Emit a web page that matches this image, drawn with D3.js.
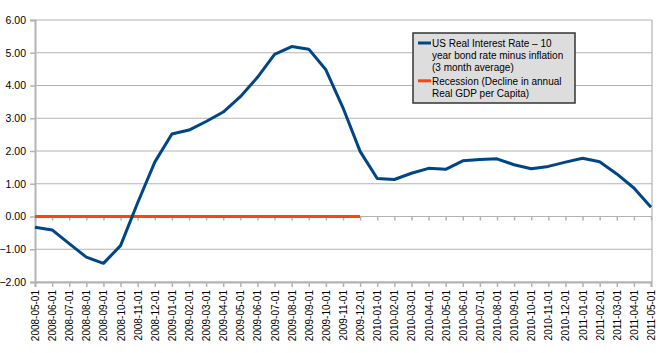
<!DOCTYPE html>
<html>
<head>
<meta charset="utf-8">
<script src="https://cdn.jsdelivr.net/npm/d3@7"></script>
<style>
  body { margin: 0; background: #fff; }
  text { font-family: "Liberation Sans", Arial, sans-serif; fill: #000; }
</style>
</head>
<body>
<div id="chart"></div>
<script>
const months = [
    "2008-05-01", "2008-06-01", "2008-07-01", "2008-08-01", "2008-09-01", "2008-10-01",
    "2008-11-01", "2008-12-01", "2009-01-01", "2009-02-01", "2009-03-01", "2009-04-01",
    "2009-05-01", "2009-06-01", "2009-07-01", "2009-08-01", "2009-09-01", "2009-10-01",
    "2009-11-01", "2009-12-01", "2010-01-01", "2010-02-01", "2010-03-01", "2010-04-01",
    "2010-05-01", "2010-06-01", "2010-07-01", "2010-08-01", "2010-09-01", "2010-10-01",
    "2010-11-01", "2010-12-01", "2011-01-01", "2011-02-01", "2011-03-01", "2011-04-01",
    "2011-05-01"
];

const realRate = [
    -0.33, -0.41, -0.83, -1.24, -1.43, -0.89,
    0.42, 1.66, 2.52, 2.64, 2.90, 3.19,
    3.66, 4.25, 4.95, 5.19, 5.11, 4.48,
    3.32, 1.99, 1.16, 1.13, 1.32, 1.47,
    1.44, 1.70, 1.74, 1.76, 1.58, 1.46,
    1.53, 1.66, 1.78, 1.67, 1.30, 0.87,
    0.28
];

// recession flag, drawn at 0 while in recession
const recession = months.map((m, i) => i <= 19 ? 0 : null);

const yTicks = [-2, -1, 0, 1, 2, 3, 4, 5, 6];

const legendItems = [
    { color: "#004586", lines: ["US Real Interest Rate \u2013 10", "year bond rate minus inflation", "(3 month average)"] },
    { color: "#ff420e", lines: ["Recession (Decline in annual", "Real GDP per Capita)"] }
];

const width = 665, height = 353;
const margin = { top: 20, right: 13, bottom: 71, left: 35 };

const svg = d3.select("#chart").append("svg")
    .attr("width", width)
    .attr("height", height);

const x = d3.scalePoint()
    .domain(months)
    .range([margin.left, 651]);

const y = d3.scaleLinear()
    .domain([-2, 6])
    .range([height - margin.bottom - 0, margin.top]);

const plotRight = 652;
const grey = "#b3b3b3";

// gridlines
svg.append("g")
    .selectAll("line")
    .data(yTicks)
    .join("line")
    .attr("x1", margin.left)
    .attr("x2", plotRight)
    .attr("y1", d => y(d))
    .attr("y2", d => y(d))
    .attr("stroke", grey)
    .attr("stroke-width", 1.2);

// right border
svg.append("line")
    .attr("x1", plotRight).attr("x2", plotRight)
    .attr("y1", y(6)).attr("y2", y(-2))
    .attr("stroke", grey)
    .attr("stroke-width", 1.2);

// y axis
const yAxis = svg.append("g")
    .attr("transform", `translate(${margin.left},0)`)
    .call(d3.axisLeft(y).tickValues(yTicks).tickSize(5).tickFormat(d3.format(".2f")));
yAxis.select(".domain").attr("stroke", grey).attr("stroke-width", 2);
yAxis.selectAll(".tick line").attr("stroke", grey).attr("stroke-width", 1.5);
yAxis.selectAll(".tick text")
    .attr("x", -9)
    .attr("font-size", "10.5px")
    .attr("font-family", "'Liberation Sans', Arial, sans-serif")
    .attr("fill", "#000");

// small ticks on the zero line
const zeroAxis = svg.append("g")
    .attr("transform", `translate(0,${y(0)})`)
    .call(d3.axisBottom(x).tickSize(4).tickFormat(""));
zeroAxis.select(".domain").remove();
zeroAxis.selectAll(".tick line").attr("stroke", grey).attr("stroke-width", 1.5);

// bottom axis
const xAxis = svg.append("g")
    .attr("transform", `translate(0,${y(-2)})`)
    .call(d3.axisBottom(x).tickSize(5));
xAxis.select(".domain").attr("stroke", grey).attr("stroke-width", 2);
xAxis.selectAll(".tick line").attr("stroke", grey).attr("stroke-width", 1.5);
xAxis.selectAll(".tick text")
    .attr("transform", "rotate(-90)")
    .attr("text-anchor", "end")
    .attr("x", -8)
    .attr("y", 0)
    .attr("dy", "0.35em")
    .attr("font-size", "10px")
    .attr("font-family", "'Liberation Sans', Arial, sans-serif")
    .attr("fill", "#000");

// recession line
const line = d3.line()
    .defined(d => d.v !== null)
    .x(d => x(d.m))
    .y(d => y(d.v));

svg.append("path")
    .datum(months.map((m, i) => ({ m: m, v: recession[i] })))
    .attr("fill", "none")
    .attr("stroke", "#ff420e")
    .attr("stroke-width", 3)
    .attr("d", line);

// real interest rate line
svg.append("path")
    .datum(months.map((m, i) => ({ m: m, v: realRate[i] })))
    .attr("fill", "none")
    .attr("stroke", "#004586")
    .attr("stroke-width", 3)
    .attr("stroke-linejoin", "round")
    .attr("d", line);

// legend
const lx = 413, ly = 33;
svg.append("rect")
    .attr("x", lx)
    .attr("y", ly)
    .attr("width", 162)
    .attr("height", 70)
    .attr("fill", "#dddddd")
    .attr("stroke", "#333")
    .attr("stroke-width", 1.5);

let row = 0;
legendItems.forEach(item => {
    const yy = ly + 14 + row * 12;
    svg.append("line")
        .attr("x1", lx + 5)
        .attr("x2", lx + 18)
        .attr("y1", yy - 4)
        .attr("y2", yy - 4)
        .attr("stroke", item.color)
        .attr("stroke-width", 3);
    item.lines.forEach((t, k) => {
        svg.append("text")
            .attr("x", lx + 19)
            .attr("y", yy + k * 12)
            .attr("font-size", "10px")
            .attr("fill", "#000")
            .text(t);
    });
    row += item.lines.length + 0.15;
});
</script>
</body>
</html>
